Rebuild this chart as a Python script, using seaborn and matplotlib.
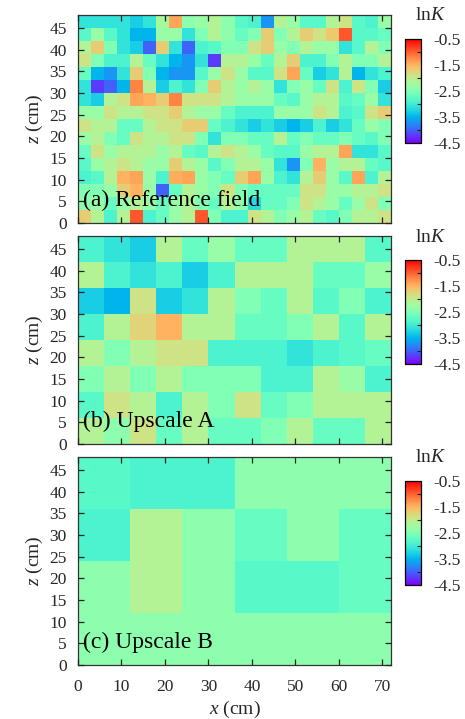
import numpy as np
import seaborn as sns
import matplotlib
matplotlib.use('Agg')
from matplotlib import pyplot as plt
from matplotlib.ticker import FixedLocator

# lnK per cell, rows from the top of the domain (z = 48 cm) down to z = 0
lnk_ref = [
	[-3.1, -3.1, -3.1, -3.1, -3.3, -3.1, -2.2, -1.4, -2.4, -2.3, -2.1, -2.4, -2.8, -2.9, -3.7, -2.1, -2.3, -2.8, -2.8, -2.1, -1.9, -2.8, -2.9, -2.3],
	[-2.8, -2.3, -2.8, -3.1, -3.5, -3.5, -2.3, -2.3, -3.1, -2.5, -2.1, -2.4, -2.7, -2.5, -1.7, -2.5, -2.1, -1.7, -1.9, -1.65, -0.95, -2.8, -2.8, -2.7],
	[-2.1, -1.7, -2.5, -3.1, -3.3, -4.0, -1.7, -3.1, -4.0, -2.9, -2.8, -2.5, -2.5, -1.9, -1.7, -2.3, -2.5, -2.1, -2.3, -2.3, -3.1, -2.8, -2.1, -2.5],
	[-1.9, -2.5, -2.9, -2.9, -2.1, -2.7, -3.1, -3.5, -3.7, -3.1, -4.2, -2.1, -2.1, -2.3, -2.7, -2.1, -1.7, -2.9, -2.9, -2.5, -2.1, -2.5, -2.5, -2.1],
	[-2.7, -3.5, -3.7, -3.1, -1.7, -2.5, -3.5, -3.7, -3.7, -2.8, -2.3, -1.9, -2.3, -2.8, -2.8, -1.9, -1.4, -2.7, -3.3, -3.1, -2.1, -3.5, -3.1, -2.9],
	[-3.1, -4.2, -4.0, -3.5, -1.2, -2.1, -3.3, -2.9, -3.1, -2.5, -1.7, -2.1, -2.3, -2.1, -2.3, -3.1, -2.5, -2.3, -2.7, -1.9, -2.9, -1.9, -2.5, -3.3],
	[-3.1, -3.3, -2.1, -1.9, -1.4, -1.5, -1.7, -1.2, -1.9, -1.9, -1.9, -2.1, -2.3, -2.3, -2.3, -2.7, -2.8, -2.3, -2.1, -2.1, -2.8, -2.7, -2.3, -3.1],
	[-2.3, -2.3, -1.9, -2.1, -2.1, -1.9, -1.9, -1.7, -2.1, -2.3, -2.3, -2.7, -2.9, -2.9, -2.9, -2.3, -2.3, -2.3, -1.9, -2.1, -2.9, -2.8, -1.9, -1.7],
	[-1.9, -2.1, -2.1, -2.7, -2.7, -2.1, -1.9, -1.9, -1.7, -1.7, -2.7, -2.9, -3.1, -3.3, -3.1, -3.3, -3.5, -3.3, -2.9, -3.3, -3.1, -2.7, -2.3, -2.5],
	[-2.3, -2.1, -2.5, -2.7, -1.9, -2.1, -2.1, -1.9, -1.9, -2.5, -3.1, -2.5, -2.5, -2.7, -2.7, -2.1, -2.7, -2.5, -2.7, -2.7, -2.5, -2.7, -2.8, -2.5],
	[-2.7, -1.9, -2.3, -2.1, -2.1, -2.1, -2.3, -2.1, -2.7, -2.8, -2.1, -1.9, -2.1, -2.3, -2.7, -2.8, -2.8, -2.3, -2.1, -2.1, -1.4, -3.1, -3.1, -2.8],
	[-2.8, -2.3, -2.1, -1.9, -2.1, -2.3, -2.3, -1.7, -2.1, -2.3, -2.8, -2.5, -2.1, -2.1, -2.3, -3.1, -3.7, -2.5, -1.5, -2.3, -2.1, -2.1, -2.7, -2.8],
	[-2.9, -2.8, -2.1, -1.5, -1.4, -2.3, -2.9, -1.45, -1.4, -2.3, -2.5, -2.7, -1.7, -1.4, -2.3, -2.9, -3.1, -2.1, -1.7, -2.3, -2.8, -1.4, -2.9, -2.1],
	[-2.5, -2.5, -2.3, -1.7, -1.5, -2.3, -4.0, -2.7, -2.1, -2.3, -2.5, -1.9, -2.5, -2.7, -2.7, -2.7, -2.7, -1.9, -1.9, -2.3, -2.3, -2.1, -2.1, -1.9],
	[-2.4, -2.3, -2.7, -2.3, -2.1, -2.3, -2.7, -2.3, -2.1, -2.5, -2.7, -2.1, -2.4, -3.2, -2.7, -2.7, -2.5, -1.9, -2.1, -2.3, -2.7, -2.3, -1.9, -2.5],
	[-1.7, -2.1, -2.9, -2.1, -0.95, -2.9, -2.7, -2.3, -2.1, -0.95, -2.5, -2.9, -2.9, -1.9, -2.1, -2.5, -2.3, -2.1, -2.7, -2.8, -2.5, -2.1, -2.1, -1.9],
]

lnk_up_a = [
	[-2.9, -3.1, -3.3, -2.1, -2.7, -2.3, -2.7, -2.7, -2.1, -2.1, -2.1, -2.8],
	[-2.1, -2.9, -3.1, -2.9, -3.3, -2.9, -2.1, -2.1, -2.1, -2.7, -2.7, -2.3],
	[-3.3, -3.5, -1.9, -3.3, -3.1, -2.1, -2.5, -2.7, -2.1, -2.8, -2.5, -2.9],
	[-2.9, -2.1, -1.75, -1.5, -2.1, -2.1, -2.7, -2.7, -2.5, -2.1, -2.8, -2.1],
	[-2.1, -2.5, -2.1, -1.9, -1.9, -2.9, -2.9, -2.9, -3.1, -2.9, -2.8, -2.7],
	[-2.5, -2.1, -2.5, -2.1, -2.5, -2.5, -2.5, -2.9, -2.9, -2.1, -2.3, -2.9],
	[-2.8, -1.9, -2.1, -2.9, -2.1, -2.5, -1.9, -2.7, -2.5, -2.1, -2.1, -2.1],
	[-2.1, -2.4, -1.9, -2.7, -2.1, -2.7, -2.7, -2.5, -2.1, -2.7, -2.7, -2.1],
]

lnk_up_b = [
	[-2.8, -2.9, -2.9, -2.4, -2.4, -2.4],
	[-2.9, -2.1, -2.4, -2.7, -2.4, -2.7],
	[-2.4, -2.1, -2.4, -2.8, -2.8, -2.7],
	[-2.4, -2.4, -2.4, -2.4, -2.4, -2.4],
]

panel_labels = ['(a) Reference field', '(b) Upscale A', '(c) Upscale B']
x_ticks = [0, 10, 20, 30, 40, 50, 60, 70]
z_ticks = [0, 5, 10, 15, 20, 25, 30, 35, 40, 45]
cb_ticks = [-0.5, -1.5, -2.5, -3.5, -4.5]
cb_minor = [-1, -2, -3, -4]
x_max, z_max = 72, 48
vmin, vmax = -4.5, -0.5

sns.set_theme(style='white')
plt.rcParams['font.family'] = ['Liberation Serif', 'DejaVu Serif']
plt.rcParams['mathtext.fontset'] = 'custom'
plt.rcParams['mathtext.rm'] = 'Liberation Serif'
plt.rcParams['mathtext.it'] = 'Liberation Serif:italic'
plt.rcParams['axes.unicode_minus'] = False

W, H = 465, 719
fig = plt.figure(figsize=(W / 100, H / 100), dpi=100)

# pixel boxes (left, top, right, bottom) of each panel and its colour bar
panel_px = [(78, 15, 391, 223), (78, 236, 391, 444), (78, 457, 391, 665)]
cbar_px = [(405, 39, 421, 143), (405, 260, 421, 364), (405, 481, 421, 585)]

def px_box(l, t, r, b):
	return [l / W, 1 - b / H, (r - l) / W, (b - t) / H]

fields = [lnk_ref, lnk_up_a, lnk_up_b]
for i, field in enumerate(fields):
	arr = np.array(field)
	nrows, ncols = arr.shape
	cell_x = x_max / ncols
	cell_z = z_max / nrows

	ax = fig.add_axes(px_box(*panel_px[i]))
	cax = fig.add_axes(px_box(*cbar_px[i]))
	sns.heatmap(arr, ax=ax, cbar_ax=cax, cmap='rainbow', vmin=vmin, vmax=vmax,
		xticklabels=False, yticklabels=False)
	ax.set_axisbelow(False)

	# axes in cm
	ax.set_xticks([x / cell_x for x in x_ticks])
	ax.set_yticks([(z_max - z) / cell_z for z in z_ticks])
	ax.set_yticklabels([str(z) for z in z_ticks], rotation=0)
	if i == len(fields) - 1:
		ax.set_xticklabels([str(x) for x in x_ticks])
		ax.set_xlabel('$x$ (cm)', fontsize=14, labelpad=3)
	else:
		ax.set_xticklabels([])
	ax.set_ylabel('$z$ (cm)', fontsize=14, labelpad=3)
	ax.tick_params(direction='in', bottom=True, left=True, top=True, right=True,
		length=4, width=0.9, labelsize=12.5, color='#222222')
	ax.tick_params(axis='x', pad=10)
	ax.tick_params(axis='y', pad=8)
	for s in ax.spines.values():
		s.set_visible(True)
		s.set_color('#333333')
		s.set_linewidth(0.9)
	ax.text(0.016, 0.11, panel_labels[i], transform=ax.transAxes, fontsize=17,
		va='center', ha='left', color='black')

	# colour bar
	cbar = ax.collections[0].colorbar
	cbar.ax.set_axisbelow(False)
	cbar.set_ticks(cb_ticks)
	cbar.set_ticklabels(['%.1f' % t for t in cb_ticks])
	cbar.ax.yaxis.set_minor_locator(FixedLocator(cb_minor))
	cbar.ax.tick_params(which='major', length=0, labelsize=12.5, pad=9)
	cbar.ax.tick_params(which='minor', direction='in', right=True, length=3,
		width=0.8, color='#222222')
	cbar.outline.set_visible(True)
	cbar.outline.set_edgecolor('black')
	cbar.outline.set_linewidth(0.9)
	l, t, r, b = cbar_px[i]
	fig.text(431 / W, 1 - (t - 23) / H, 'ln$K$', fontsize=14, ha='center', va='center')

fig.savefig('out.png', dpi=100)
